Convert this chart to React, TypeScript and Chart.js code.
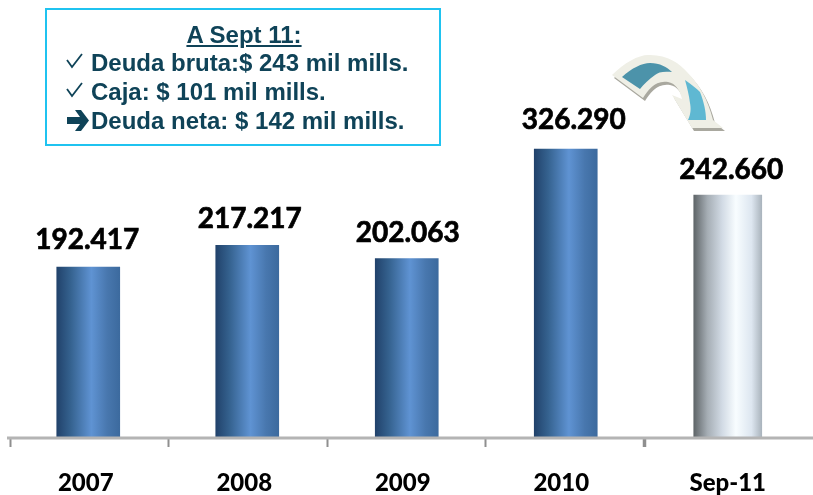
import React, { useEffect, useRef } from "react";
import { Chart, registerables } from "chart.js";

Chart.register(...registerables);

const categories = ["2007", "2008", "2009", "2010", "Sep-11"];
const historicValues = [192417, 217217, 202063, 326290, null];
// The reference draws the Sep-11 bar taller than its printed value: height.
const currentValues = [null, null, null, null, 274100];
const valueLabels = ["192.417", "217.217", "202.063", "326.290", "242.660"];

const barNudge = [-1, -0.5, 0.5, 1, 4.5];
const labelNudgeX = [-1, 2.5, 1, 8, 3.5];
const labelLift = [18, 17, 17, 20, 16];

const blueStops: [number, string][] = [
  [0, "#21426b"],
  [0.22, "#35628f"],
  [0.55, "#5f93d3"],
  [0.8, "#4877ae"],
  [1, "#3c6a9e"],
];
const silverStops: [number, string][] = [
  [0, "#5f6568"],
  [0.2, "#a5adb4"],
  [0.42, "#d2dbe5"],
  [0.62, "#f8fdff"],
  [0.85, "#dde6f0"],
  [1, "#aab4bd"],
];

const BLUE_W = 63;
const SILVER_W = 68;
const TICK_LABEL_OFFSET = -3.5;

function barGradient(ctx: any, stops: [number, string][], w: number) {
  const chart = ctx.chart;
  const sx = chart.scales?.x;
  if (!sx || typeof ctx.dataIndex !== "number") return stops[0][1];
  const cx = sx.getPixelForValue(ctx.dataIndex) + barNudge[ctx.dataIndex];
  if (!Number.isFinite(cx)) return stops[0][1];
  const g = chart.ctx.createLinearGradient(cx - w / 2, 0, cx + w / 2, 0);
  stops.forEach(([o, c]) => g.addColorStop(o, c));
  return g;
}

const labelPlugin = {
  id: "valueLabels",
  afterDatasetsUpdate(chart: any) {
    chart.data.datasets.forEach((ds: any, di: number) => {
      chart.getDatasetMeta(di).data.forEach((el: any, i: number) => {
        if (ds.data[i] != null) el.x += barNudge[i];
      });
    });
  },
  beforeDraw(chart: any) {
    const items = chart.scales.x.getLabelItems();
    const last = items[items.length - 1];
    if (last && !last.shifted) {
      last.options.translation[0] += barNudge[4] - TICK_LABEL_OFFSET;
      last.shifted = true;
    }
  },
  afterDraw(chart: any) {
    const s = chart.scales.x;
    const c = chart.ctx;
    c.save();
    c.strokeStyle = "#b4b4b4";
    c.lineWidth = 3;
    c.beginPath();
    c.moveTo(s.left - 3, s.top + 1);
    c.lineTo(chart.width, s.top + 1);
    c.stroke();
    c.restore();
  },
  afterDatasetsDraw(chart: any) {
    const c = chart.ctx;
    c.save();
    c.font = "700 28px Lato";
    c.fillStyle = "#000";
    c.strokeStyle = "#000";
    c.lineWidth = 0.7;
    c.textAlign = "center";
    c.textBaseline = "alphabetic";
    chart.data.datasets.forEach((ds: any, di: number) => {
      chart.getDatasetMeta(di).data.forEach((el: any, i: number) => {
        if (ds.data[i] == null) return;
        c.fillText(valueLabels[i], el.x + labelNudgeX[i], el.y - labelLift[i]);
        c.strokeText(valueLabels[i], el.x + labelNudgeX[i], el.y - labelLift[i]);
      });
    });
    c.restore();
  },
};

export default function App() {
  const ref = useRef<HTMLCanvasElement>(null);
  useEffect(() => {
    if (!ref.current) return;
    const chart = new Chart(ref.current, {
      type: "bar",
      data: {
        labels: categories,
        datasets: [
          {
            data: historicValues,
            barThickness: BLUE_W,
            backgroundColor: (ctx: any) => barGradient(ctx, blueStops, BLUE_W),
            borderWidth: 0,
          },
          {
            data: currentValues,
            barThickness: SILVER_W,
            backgroundColor: (ctx: any) => barGradient(ctx, silverStops, SILVER_W),
            borderWidth: 0,
          },
        ],
      },
      options: {
        animation: false,
        responsive: false,
        layout: { padding: { left: 10, right: 10.5, top: 0, bottom: 0 } },
        plugins: { legend: { display: false }, tooltip: { enabled: false } },
        scales: {
          x: {
            stacked: true,
            position: "bottom",
            afterFit: (s: any) => {
              s.height = 58;
            },
            grid: {
              display: true,
              drawOnChartArea: false,
              drawTicks: true,
              tickLength: 10,
              tickColor: (ctx: any) => (ctx.index === undefined ? "rgba(0,0,0,0)" : "#8f8f8f"),
              tickWidth: (ctx: any) => (ctx.index === 4 ? 3.5 : 2),
            },
            border: { display: false },
            ticks: {
              color: "#000",
              font: { family: "Lato", weight: "900", size: 24 },
              padding: 22,
              labelOffset: TICK_LABEL_OFFSET,
              maxRotation: 0,
            },
          },
          y: { stacked: true, display: false, min: 0, max: 495100 },
        },
      },
      plugins: [labelPlugin],
    } as any);
    return () => chart.destroy();
  }, []);

  const textStyle: React.CSSProperties = {
    position: "absolute",
    left: 91,
    fontFamily: "'Liberation Sans', Arial, sans-serif",
    fontWeight: 700,
    fontSize: 24,
    lineHeight: "28px",
    color: "#0f4358",
    whiteSpace: "nowrap",
  };

  const arrowPath =
    "M612 75 C625 62 640 54 650 55 C668 55 680 64 687 72 C700 85 708 100 713 120 L723 128 L692 128 L672 95 L682 99 C680 90 675 83 668 82 C655 80 648 90 643 98 Z";

  return (
    <div style={{ position: "fixed", left: 0, top: 0, width: 813, height: 495, background: "#fff", overflow: "hidden" }}>
      <canvas ref={ref} width={813} height={495} style={{ display: "block", width: 813, height: 495 }} />
      <div style={{ position: "absolute", left: 45, top: 8, width: 396, height: 138, boxSizing: "border-box", border: "2px solid #1fc3f0", background: "#fff" }} />
      <div style={{ ...textStyle, left: 45, width: 398, top: 21, textAlign: "center", textDecoration: "underline" }}>A Sept 11:</div>
      <div style={{ ...textStyle, top: 49 }}>Deuda bruta:$ 243 mil mills.</div>
      <div style={{ ...textStyle, top: 78 }}>Caja: $ 101 mil mills.</div>
      <div style={{ ...textStyle, top: 107 }}>Deuda neta: $ 142 mil mills.</div>
      <svg width={813} height={495} style={{ position: "absolute", left: 0, top: 0, pointerEvents: "none" }}>
        <path d="M67 60 L72 67 L82 54" fill="none" stroke="#0f4358" strokeWidth={1.8} />
        <path d="M67 89 L72 96 L82 83" fill="none" stroke="#0f4358" strokeWidth={1.8} />
        <path d="M67 117 H80 L75 110 H81 L89 120.5 L81 131 H75 L80 124 H67 Z" fill="#0f4358" />
        <path d={arrowPath} fill="#a9a89f" transform="translate(2 3)" />
        <path d={arrowPath} fill="#efefe6" />
        <path d="M622 77 C632 68 642 63 650 63 C660 63 667 67 672 72 C664 71 658 72 655 75 C649 79 644 84 640 89 Z" fill="#4c93aa" />
        <path d="M685 80 C692 85 697 89 700 92 C704 102 706 112 706 120 L688 120 C691 114 691 108 690 103 C689 95 687 87 685 80 Z" fill="#5fb8d2" />
      </svg>
    </div>
  );
}
